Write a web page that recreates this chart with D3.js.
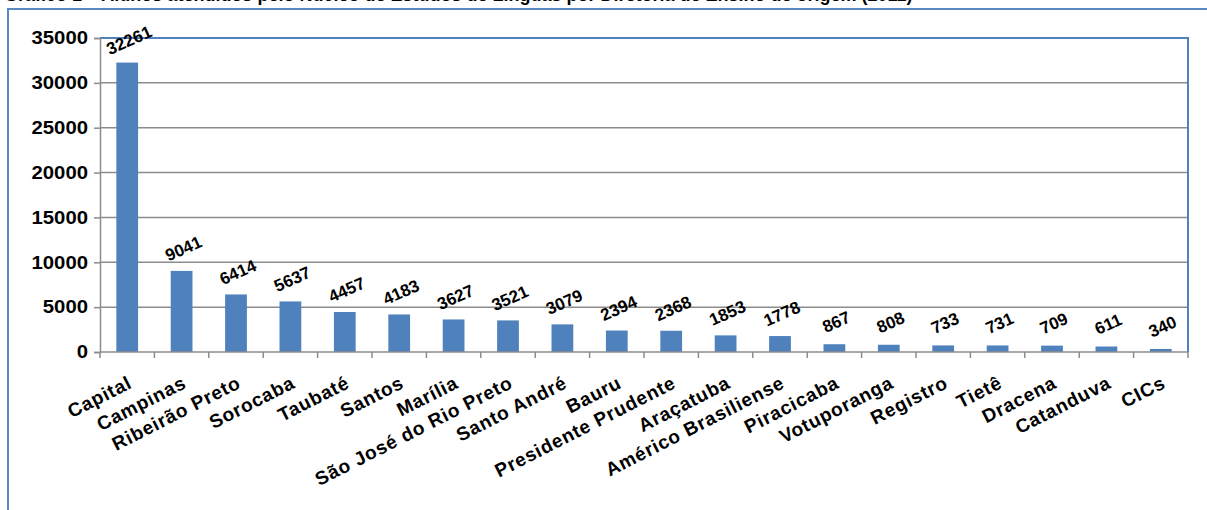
<!DOCTYPE html>
<html>
<head>
<meta charset="utf-8">
<script src="https://cdn.jsdelivr.net/npm/d3@7"></script>
<style>
    body { margin: 0; background: #fff; }
    svg text { font-family: "Liberation Sans", Arial, sans-serif; font-weight: bold; fill: #000; }
</style>
</head>
<body>
<svg id="chart" width="1207" height="510"></svg>
<script>
// data
const categories = ["Capital", "Campinas", "Ribeirão Preto", "Sorocaba", "Taubaté", "Santos", "Marília",
    "São José do Rio Preto", "Santo André", "Bauru", "Presidente Prudente", "Araçatuba",
    "Américo Brasiliense", "Piracicaba", "Votuporanga", "Registro", "Tietê", "Dracena", "Catanduva", "CICs"];
const values = [32261, 9041, 6414, 5637, 4457, 4183, 3627, 3521, 3079, 2394, 2368, 1853, 1778, 867, 808, 733, 731, 709, 611, 340];
const yTicks = [0, 5000, 10000, 15000, 20000, 25000, 30000, 35000];

const svg = d3.select("#chart");
const margin = {left: 100, top: 38, right: 1188, bottom: 352};
const blue = "#4F81BD";

// cut-off title at the very top
svg.append("text")
    .attr("x", 4)
    .attr("y", 1)
    .style("font-size", "18px")
    .text("Gráfico 1 – Alunos atendidos pelo Núcleo de Estudos de Línguas por Diretoria de Ensino de origem (2011)");

// outer frame
svg.append("path")
    .attr("d", `M8,510 V9 H1207`)
    .attr("fill", "none")
    .attr("stroke", "#5a88c2")
    .attr("stroke-width", 2);

const x = d3.scaleBand()
    .domain(categories)
    .range([margin.left, margin.right])
    .paddingInner(0.6)
    .paddingOuter(0.3);

const y = d3.scaleLinear()
    .domain([0, 35000])
    .range([margin.bottom, margin.top]);

// gridlines
svg.append("g")
    .selectAll("line")
    .data(yTicks.filter(d => d > 0 && d < 35000))
    .join("line")
    .attr("x1", margin.left)
    .attr("x2", margin.right)
    .attr("y1", d => y(d))
    .attr("y2", d => y(d))
    .attr("stroke", "#8c8c8c")
    .attr("stroke-width", 1.5);

// plot border (top + right)
svg.append("path")
    .attr("d", `M${margin.left},${margin.top} H${margin.right} V${margin.bottom}`)
    .attr("fill", "none")
    .attr("stroke", blue)
    .attr("stroke-width", 2);

// bars
svg.append("g")
    .selectAll("rect")
    .data(values)
    .join("rect")
    .attr("x", (d, i) => x(categories[i]))
    .attr("y", d => y(d))
    .attr("width", x.bandwidth())
    .attr("height", d => y(0) - y(d))
    .attr("fill", blue);

// y axis
let yAxis = svg.append("g")
    .attr("transform", `translate(${margin.left},0)`)
    .call(d3.axisLeft(y).tickValues(yTicks).tickSize(6).tickPadding(6).tickFormat(d3.format("d")));
yAxis.select(".domain").attr("stroke", "#8c8c8c").attr("stroke-width", 1.5);
yAxis.selectAll(".tick line").attr("stroke", "#8c8c8c").attr("stroke-width", 1.5);
yAxis.selectAll(".tick text")
    .style("font-size", "18px")
    .attr("lengthAdjust", "spacingAndGlyphs")
    .each(function(d) {
        d3.select(this).attr("textLength", String(d).length * 11.3);
    });

// x axis line + boundary ticks
const bounds = d3.range(categories.length + 1).map(i => margin.left + i * (margin.right - margin.left) / categories.length);
svg.append("line")
    .attr("x1", margin.left).attr("x2", margin.right)
    .attr("y1", margin.bottom).attr("y2", margin.bottom)
    .attr("stroke", "#8c8c8c").attr("stroke-width", 1.5);
svg.append("g")
    .selectAll("line")
    .data(bounds)
    .join("line")
    .attr("x1", d => d).attr("x2", d => d)
    .attr("y1", margin.bottom).attr("y2", margin.bottom + 6)
    .attr("stroke", "#8c8c8c").attr("stroke-width", 1.5);

// category labels
svg.append("g")
    .selectAll("text")
    .data(categories)
    .join("text")
    .attr("transform", d => `translate(${x(d) + x.bandwidth() / 2 + 6},${margin.bottom + 35}) rotate(-27)`)
    .attr("text-anchor", "end")
    .style("font-size", "19px")
    .style("letter-spacing", "0.8px")
    .text(d => d);

// value labels
svg.append("g")
    .selectAll("text")
    .data(values)
    .join("text")
    .attr("transform", (d, i) => `translate(${x(categories[i]) + x.bandwidth() / 2 + 2},${y(d) - 22}) rotate(-24)`)
    .attr("text-anchor", "middle")
    .attr("dominant-baseline", "central")
    .style("font-size", "17px")
    .text(d => d);
</script>
</body>
</html>
